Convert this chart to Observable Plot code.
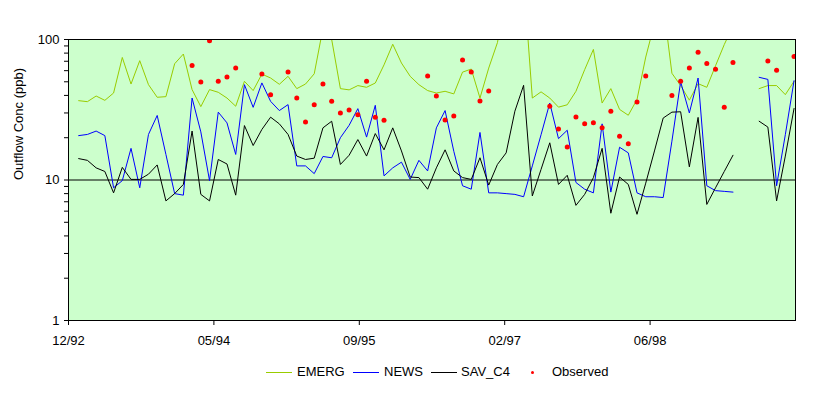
<!DOCTYPE html>
<html><head><meta charset="utf-8">
<script src="https://cdn.jsdelivr.net/npm/d3@7"></script>
<script src="https://cdn.jsdelivr.net/npm/@observablehq/plot@0.6"></script>
<style>
body{margin:0;background:#fff;font-family:"Liberation Sans",Arial,sans-serif;}
#wrap{position:relative;width:829px;height:396px;}
#chart svg{display:block;}
.legend{position:absolute;top:364px;left:0;width:829px;height:16px;font-size:13px;color:#000;}
.legend .sw{position:absolute;top:8px;width:26px;height:0;border-top:1px solid;}
.legend .tx{position:absolute;top:0;line-height:16px;white-space:nowrap;}
.legend .dt{position:absolute;top:7px;width:3px;height:3px;border-radius:50%;background:#f00;}
</style></head>
<body><div id="wrap"><div id="chart"></div><div class="legend" id="legend"></div></div>
<script>
const seriesNames = ["EMERG", "NEWS", "SAV_C4"];
const seriesColors = ["#99cc00", "#0000ff", "#000000"];
const observedName = "Observed";
const yLabel = "Outflow Conc (ppb)";

const emerg = [36.7,36.1,39.6,36.9,41.6,74.5,48.2,70.7,47.7,38.8,39.2,67.2,78.8,44.0,33.3,44.0,42.1,38.3,33.5,50.4,
  43.3,56.7,53.2,48.0,54.7,44.7,48.2,57,120,100,44.7,43.8,47,45.7,49.0,66,92.5,68,54.7,47.7,
  43.3,41.6,42.8,41,58.6,61.6,38.3,62.6,95,200,250,270,38.3,42.4,38.3,33,34.3,42.8,61,85,
  35.3,44.7,31.8,28.9,37.4,75,130,180,57.5,47,37,48.5,45.7,65,92,125,null,null,44.7,47,
  47,40.5,50.4];
const news = [20.7,21.1,22.3,20.7,8.8,9.9,16.8,8.8,21.1,28.8,15.2,8.0,7.8,38.3,22,9.9,30.4,25.5,15.2,47.7,
  32.9,49.1,36.3,31.2,34.4,12.6,12.6,11.1,14.7,14.4,20.0,24.5,32.2,20.2,34,10.7,12.2,13.4,10.1,13.8,
  11.6,23.5,31.2,16,9.1,8.6,21.8,8.1,8.1,8.0,7.9,7.6,12.6,21,35.3,19.7,22.6,9.6,8.6,8.1,
  25.1,8.2,17.1,15.6,8.1,7.6,7.6,7.5,18.9,50,30,53.2,9.1,8.4,8.3,8.2,null,null,53.8,52,
  9.1,21,50.9];
const savC4 = [14.2,13.8,12.2,11.5,8.1,12.3,10.1,10.1,11.0,12.8,7.1,8.0,9.3,22.3,7.9,7.1,14.0,13.0,7.8,24.4,
  17.6,22.9,28.0,25.1,21.1,14.8,14.0,14.3,23.5,26.2,12.9,15.0,19.4,14.8,21.4,16.4,23.5,16.1,10.5,10.4,
  8.6,12.2,16.4,11.6,10.4,10.1,14.4,9.2,12.9,15.6,30.9,47.2,7.7,11.9,18.4,9.3,10.8,6.6,7.9,10.4,
  16.8,5.8,10.5,9.3,5.7,9.5,16.1,27.6,30.4,30.6,12.4,27.9,6.7,8.8,11.5,15.0,null,null,26.2,23.8,
  7.1,14.8,32.3];
const observed = [null,null,null,null,null,null,null,null,null,null,null,null,null,65.2,49.8,97.9,50.4,54.1,62.6,null,
  null,56.7,40.5,null,58.6,38.3,25.9,34.3,48.2,36.3,30.0,31.5,29.1,50.4,28.0,26.6,null,null,null,null,
  55.0,39.6,26.7,28.6,71.4,58.6,36.5,43.0,null,null,null,null,null,null,33.5,23.1,17.2,28.1,25.1,25.6,
  23.5,30.9,20.5,18.1,35.9,54.9,null,null,39.9,50.4,62.6,81.3,67.6,61.5,32.9,68.7,null,null,null,70.2,
  60.4,null,75.8];

// sample dates: 30-day time step
const DAY = 864e5;
const firstSample = Date.UTC(1993, 1, 4);
const stepDays = 30;
const dates = emerg.map((_, i) => new Date(firstSample + i * stepDays * DAY));

// axis: 2500 days, major unit 500 days
const axisStart = Date.UTC(1992, 11, 31);
const axisDays = 2500, tickStepDays = 500;
const xDomain = [new Date(axisStart), new Date(axisStart + axisDays * DAY)];
const xTicks = d3.range(0, axisDays, tickStepDays).map(d => new Date(axisStart + d * DAY));
const yTicks = [1, 10, 100];
const yMinor = [2,3,4,5,6,7,8,9,20,30,40,50,60,70,80,90];

const seriesValues = [emerg, news, savC4];
const lineMarks = seriesValues.map((vals, s) =>
  Plot.line(vals.map((v, i) => ({date: dates[i], value: v})),
    {x: "date", y: "value", stroke: seriesColors[s], strokeWidth: 1, clip: true}));
const obsRows = observed.map((v, i) => ({date: dates[i], value: v})).filter(d => d.value != null);

const chart = Plot.plot({
  width: 829, height: 352,
  marginLeft: 68, marginRight: 34, marginTop: 39, marginBottom: 32,
  style: {fontFamily: '"Liberation Sans", Arial, sans-serif', fontSize: "13px", background: "transparent", color: "#000", overflow: "visible"},
  x: {type: "utc", domain: xDomain},
  y: {type: "log", domain: [1, 100]},
  marks: [
    Plot.frame({fill: "#ccffcc"}),
    Plot.ruleY([10], {stroke: "#000", strokeWidth: 1}),
    ...lineMarks,
    Plot.dot(obsRows, {x: "date", y: "value", r: 2.5, fill: "#ff0000", clip: true}),
    Plot.frame({stroke: "#000"}),
    Plot.axisX({ticks: xTicks, tickFormat: d3.utcFormat("%m/%y"), tickSize: 5, tickPadding: 10, label: null, fontSize: 13}),
    Plot.axisY({ticks: yTicks, tickFormat: d => String(d), tickSize: 4, tickPadding: 5, label: null, fontSize: 13}),
    Plot.axisY({ticks: yMinor, tickFormat: () => "", tickSize: 4, label: null}),
    Plot.text([yLabel], {frameAnchor: "left", rotate: -90, dx: -50, fontSize: 13, fill: "#000"})
  ]
});
document.getElementById("chart").appendChild(chart);

// legend
const legend = document.getElementById("legend");
const swX = [266, 353, 431], txX = [297, 384, 461];
seriesNames.forEach((name, s) => {
  const sw = document.createElement("div");
  sw.className = "sw"; sw.style.left = swX[s] + "px"; sw.style.borderTopColor = seriesColors[s];
  legend.appendChild(sw);
  const tx = document.createElement("div");
  tx.className = "tx"; tx.style.left = txX[s] + "px"; tx.textContent = name;
  legend.appendChild(tx);
});
const dt = document.createElement("div");
dt.className = "dt"; dt.style.left = "531px"; legend.appendChild(dt);
const ot = document.createElement("div");
ot.className = "tx"; ot.style.left = "552px"; ot.textContent = observedName; legend.appendChild(ot);
</script>
</body></html>
